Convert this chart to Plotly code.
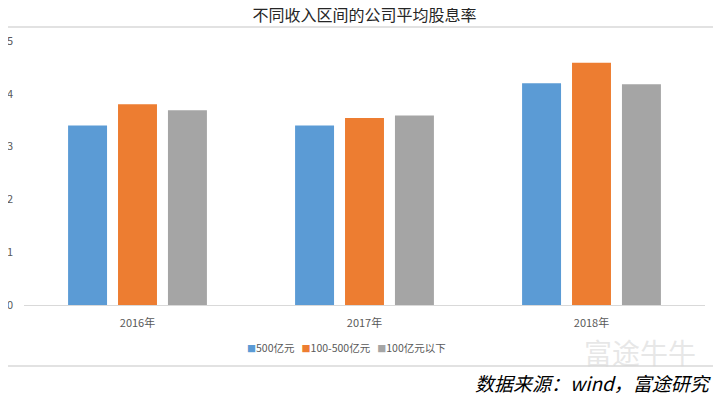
import plotly.graph_objects as go

categories = ["2016年", "2017年", "2018年"]
series_names = ["500亿元", "100-500亿元", "100亿元以下"]
s_large = [3.40, 3.40, 4.20]
s_mid = [3.80, 3.54, 4.59]
s_small = [3.69, 3.59, 4.18]
colors = ["#5B9BD5", "#ED7D31", "#A5A5A5"]
y_ticks = [0, 1, 2, 3, 4, 5]

O = 8  # page body margin offset
W, H = 721 - O, 397 - O
L = 24 - O
R = W - (705 - O)
T = 41 - O
B = H - (305 - O)
pw = W - L - R
ph = H - T - B


def px_x(px):
    return (px - O - L) / pw


def px_y(py):
    return (H - B - (py - O)) / ph


font = "Noto Sans CJK SC, Noto Sans, sans-serif"

fig = go.Figure()
for name, vals, c in zip(series_names, [s_large, s_mid, s_small], colors):
    fig.add_trace(go.Bar(x=categories, y=vals, name=name, marker=dict(color=c, line=dict(width=0)),
                         showlegend=False))

fig.update_layout(
    width=W, height=H,
    margin=dict(l=L, r=R, t=T, b=B, autoexpand=False),
    paper_bgcolor="white", plot_bgcolor="white",
    barmode="group", bargap=0.34, bargroupgap=0.22,
    font=dict(family=font, size=11, color="#595959"),
    title=dict(text="不同收入区间的公司平均股息率", x=0.5, xanchor="center",
               y=1 - (15 - O) / H, yanchor="middle",
               font=dict(family=font, size=16, color="#262626")),
    xaxis=dict(showgrid=False, showline=True, linecolor="#D9D9D9", linewidth=1,
               ticks="", tickfont=dict(size=11, color="#595959"), ticklabelstandoff=8),
    yaxis=dict(range=[0, 5], tickvals=y_ticks, showgrid=False, zeroline=False,
               showline=False, ticks="", tickfont=dict(size=11, color="#595959"),
               ticklabelstandoff=10),
)

fig.add_shape(type="rect", xref="paper", yref="paper",
              x0=px_x(1), x1=px_x(718), y0=px_y(366), y1=px_y(27),
              line=dict(color="#D9D9D9", width=1.5), fillcolor="rgba(0,0,0,0)", layer="below")

# legend drawn as one text line so the small square markers sit close to the labels
legend_text = "&nbsp;&nbsp;&nbsp;".join(
    f"<span style='color:{c};font-size:9px'>■</span>{name}" for name, c in zip(series_names, colors)
)
fig.add_annotation(text=legend_text, xref="paper", yref="paper", x=px_x(346), y=px_y(347),
                   xanchor="center", yanchor="middle", showarrow=False,
                   font=dict(family=font, size=10.5, color="#595959"))

fig.add_annotation(text="富途牛牛", xref="paper", yref="paper", x=px_x(640), y=px_y(352),
                   xanchor="center", yanchor="middle", showarrow=False,
                   font=dict(family=font, size=28, color="rgba(215,215,215,0.6)"))

fig.add_annotation(text="<i>数据来源：wind，富途研究</i>", xref="paper", yref="paper",
                   x=px_x(714), y=px_y(382), xanchor="right", yanchor="middle", showarrow=False,
                   font=dict(family=font, size=19, color="#000000"))

fig.write_html("out.html")
